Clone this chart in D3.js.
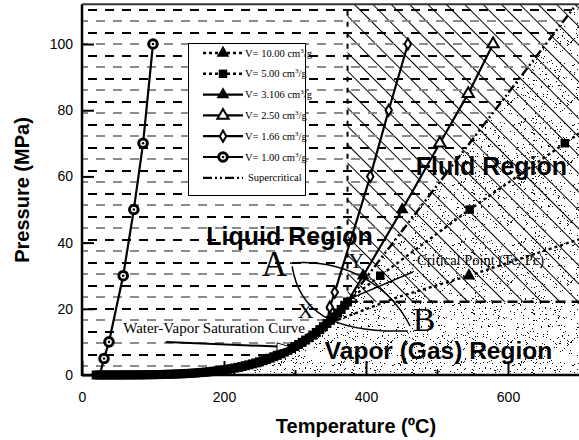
<!DOCTYPE html>
<html>
<head>
<meta charset="utf-8">
<script src="https://cdn.jsdelivr.net/npm/d3@7"></script>
<style>
  body { margin: 0; background: #fff; }
  svg { display: block; }
</style>
</head>
<body>
<script>
// saturation curve of water, T (degC) / P (MPa)
const satT = [20, 25, 30, 35, 40, 45, 50, 55, 60, 65, 70, 75, 80, 85, 90, 95, 100, 105, 110, 115,
  120, 125, 130, 135, 140, 145, 150, 155, 160, 165, 170, 175, 180, 185, 190, 195, 200, 205, 210,
  215, 220, 225, 230, 235, 240, 245, 250, 255, 260, 265, 270, 275, 280, 285, 290, 295, 300, 305,
  310, 315, 320, 325, 330, 335, 340, 345, 350, 355, 360, 365, 370, 374];
const satP = [0.002, 0.003, 0.004, 0.006, 0.007, 0.010, 0.012, 0.016, 0.020, 0.025, 0.031, 0.039,
  0.047, 0.058, 0.070, 0.085, 0.101, 0.121, 0.143, 0.169, 0.199, 0.232, 0.270, 0.313, 0.362, 0.416,
  0.476, 0.544, 0.618, 0.701, 0.792, 0.893, 1.003, 1.124, 1.255, 1.399, 1.555, 1.724, 1.908, 2.106,
  2.320, 2.550, 2.797, 3.063, 3.347, 3.651, 3.976, 4.323, 4.692, 5.085, 5.503, 5.946, 6.417, 6.915,
  7.442, 7.999, 8.588, 9.209, 9.865, 10.56, 11.28, 12.05, 12.86, 13.71, 14.60, 15.54, 16.53, 17.57,
  18.67, 19.82, 21.04, 22.06];

// isochores (T degC, P MPa, 1 = marker drawn)
const v1000T = [345, 377, 444, 545, 700];
const v1000P = [15.5, 18, 23.5, 30, 41];
const v1000M = [0, 0, 0, 1, 0];
const v500T = [362, 420, 546, 680, 700];
const v500P = [20.5, 30, 50, 70, 73];
const v500M = [0, 1, 1, 1, 0];
const v3106T = [374, 382, 396, 451];
const v3106P = [22.1, 25, 30, 50];
const v3106M = [0, 0, 1, 1];
const v250T = [451, 504, 544, 579];
const v250P = [50, 70, 85, 100];
const v250M = [0, 1, 1, 1];
const v166T = [345, 349, 356, 406, 432, 459];
const v166P = [15.5, 20.5, 25, 60, 80, 100];
const v166M = [0, 1, 1, 1, 1, 1];
const v100T = [25, 31, 38, 58, 73, 86, 100];
const v100P = [0, 5, 10, 30, 50, 70, 100];
const v100M = [0, 1, 1, 1, 1, 1, 1];
const superT = [374, 700];
const superP = [22.1, 113];

const critT = 374, critP = 22.1;

const legendVals = ['10.00', '5.00', '3.106', '2.50', '1.66', '1.00'];
const xTicks = [0, 200, 400, 600];
const xMinor = [100, 300, 500];
const yTicks = [0, 20, 40, 60, 80, 100];

const sans = "Arial, 'Liberation Sans', Helvetica, sans-serif";
const serif = "'Times New Roman', 'Liberation Serif', Times, serif";

const x = d3.scaleLinear().domain([0, 700]).range([82, 579]);
const y = d3.scaleLinear().domain([0, 112]).range([375, 4.3]);

const svg = d3.select('body').append('svg')
  .attr('width', 579)
  .attr('height', 440);
const defs = svg.append('defs');

defs.append('clipPath').attr('id', 'plot')
  .append('rect')
  .attr('x', x(0)).attr('y', y(112))
  .attr('width', x(700) - x(0)).attr('height', y(0) - y(112) + 6);

/* horizontal dash texture: black and grey rows, staggered */
const pd = defs.append('pattern').attr('id', 'hdash')
  .attr('patternUnits', 'userSpaceOnUse')
  .attr('x', 88).attr('y', 9).attr('width', 17).attr('height', 23);
pd.append('rect').attr('x', 0).attr('y', 0).attr('width', 9).attr('height', 2).attr('fill', '#000');
pd.append('rect').attr('x', 8).attr('y', 11).attr('width', 9).attr('height', 2).attr('fill', '#8c8c8c');

/* diagonal hatch */
const ph = defs.append('pattern').attr('id', 'hatch')
  .attr('patternUnits', 'userSpaceOnUse')
  .attr('width', 13).attr('height', 13)
  .attr('patternTransform', 'rotate(-45)');
ph.append('line').attr('x1', 0.5).attr('y1', 0).attr('x2', 0.5).attr('y2', 13)
  .attr('stroke', '#000').attr('stroke-width', 1);

/* stipple: fixed dot tile */
const ps = defs.append('pattern').attr('id', 'stip')
  .attr('patternUnits', 'userSpaceOnUse')
  .attr('width', 60).attr('height', 60);
let seed = 12345;
const lcg = () => (seed = (seed * 16807) % 2147483647) / 2147483647;
for (let i = 0; i < 190; i++) {
  ps.append('rect')
    .attr('x', Math.floor(lcg() * 60)).attr('y', Math.floor(lcg() * 60))
    .attr('width', 1).attr('height', 1).attr('fill', '#000');
}

const sat = d3.zip(satT, satP);
const line = d3.line().x(d => x(d[0])).y(d => y(d[1]));
const topT = critT + (112 - critP) * (superT[1] - superT[0]) / (superP[1] - superP[0]);

const bg = svg.append('g').attr('clip-path', 'url(#plot)');

// vapor + low-density fluid
bg.append('path')
  .attr('d', line([...sat, [topT, 112], [700, 112], [700, 0], [satT[0], 0]]) + 'Z')
  .attr('fill', 'url(#stip)');

// supercritical hatch
bg.append('rect')
  .attr('x', x(critT)).attr('y', y(112))
  .attr('width', x(700) - x(critT)).attr('height', y(critP) - y(112))
  .attr('fill', 'url(#hatch)');

// liquid-like texture
bg.append('path')
  .attr('d', line([[0, 0], ...sat, [topT, 112], [0, 112]]) + 'Z')
  .attr('fill', 'url(#hdash)')
  .attr('shape-rendering', 'crispEdges');

// critical T and P dashed boundaries
bg.append('line')
  .attr('x1', x(critT)).attr('x2', x(critT))
  .attr('y1', y(critP)).attr('y2', y(112))
  .attr('stroke', '#000').attr('stroke-width', 2)
  .attr('stroke-dasharray', '5,6');
bg.append('line')
  .attr('x1', x(critT)).attr('x2', x(700))
  .attr('y1', y(critP)).attr('y2', y(critP))
  .attr('stroke', '#000').attr('stroke-width', 2.5)
  .attr('stroke-dasharray', '10,6');

// supercritical dash-dot line
bg.append('path')
  .attr('d', line(d3.zip(superT, superP)))
  .attr('fill', 'none').attr('stroke', '#000').attr('stroke-width', 2.5)
  .attr('stroke-dasharray', '9,3,2,3,2,3');

function marker(g, type, cx, cy) {
  if (type === 'triFill') {
    g.append('path').attr('d', d3.symbol(d3.symbolTriangle, 70)())
      .attr('transform', `translate(${cx},${cy})`).attr('fill', '#000');
  } else if (type === 'triOpen') {
    g.append('path').attr('d', d3.symbol(d3.symbolTriangle, 55)())
      .attr('transform', `translate(${cx},${cy})`)
      .attr('fill', '#fff').attr('stroke', '#000').attr('stroke-width', 2);
  } else if (type === 'square') {
    g.append('path').attr('d', d3.symbol(d3.symbolSquare, 72)())
      .attr('transform', `translate(${cx},${cy})`).attr('fill', '#000');
  } else if (type === 'diamond') {
    g.append('path').attr('d', d3.symbol(d3.symbolDiamond, 36)())
      .attr('transform', `translate(${cx},${cy})`)
      .attr('fill', '#fff').attr('stroke', '#000').attr('stroke-width', 2);
  } else if (type === 'circ') {
    g.append('circle').attr('cx', cx).attr('cy', cy).attr('r', 4.3)
      .attr('fill', '#fff').attr('stroke', '#000').attr('stroke-width', 3);
    g.append('circle').attr('cx', cx).attr('cy', cy).attr('r', 1.3).attr('fill', '#000');
  }
}

const series = [
  { T: v1000T, P: v1000P, M: v1000M, mark: 'triFill', dash: '3,3', w: 2.4 },
  { T: v500T, P: v500P, M: v500M, mark: 'square', dash: '3,3', w: 2.4 },
  { T: v3106T, P: v3106P, M: v3106M, mark: 'triFill', dash: null, w: 2.2 },
  { T: v250T, P: v250P, M: v250M, mark: 'triOpen', dash: null, w: 2.2 },
  { T: v166T, P: v166P, M: v166M, mark: 'diamond', dash: null, w: 2.2 },
  { T: v100T, P: v100P, M: v100M, mark: 'circ', dash: null, w: 2.2 }
];

const dataG = svg.append('g').attr('clip-path', 'url(#plot)');
series.forEach(s => {
  dataG.append('path')
    .attr('d', line(d3.zip(s.T, s.P)))
    .attr('fill', 'none').attr('stroke', '#000').attr('stroke-width', s.w)
    .attr('stroke-dasharray', s.dash);
});
series.slice().reverse().forEach(s => {
  s.T.forEach((t, i) => {
    if (s.M[i]) marker(dataG, s.mark, x(t), y(s.P[i]));
  });
});

// saturation curve (dense squares)
svg.append('g').selectAll('rect')
  .data(sat)
  .join('rect')
  .attr('x', d => x(d[0]) - 4.5)
  .attr('y', d => y(d[1]) - 4.5)
  .attr('width', 9).attr('height', 9)
  .attr('fill', '#000');

/* annotations */
const ann = svg.append('g');

const regionNames = ['Liquid Region', 'Fluid Region', 'Vapor (Gas) Region'];
const regionT = [175, 470, 342];
const regionP = [39.3, 60.5, 4.9];
regionNames.forEach((t, i) => {
  ann.append('text')
    .attr('x', x(regionT[i])).attr('y', y(regionP[i]))
    .attr('font-family', sans).attr('font-weight', 'bold')
    .attr('font-size', i === 2 ? 24.5 : 25)
    .attr('fill', '#000')
    .text(t);
});

const letters = ['A', 'B', 'X', 'Y'];
const letterT = [253, 466, 304, 375];
const letterP = [30.0, 13.3, 17.2, 32.3];
const letterSize = [35, 34, 22, 22];
letters.forEach((t, i) => {
  ann.append('text')
    .attr('x', x(letterT[i])).attr('y', y(letterP[i]))
    .attr('font-family', serif).attr('font-size', letterSize[i])
    .text(t);
});

// two paths between A and B
const pathUpper = [[293, 33.8], [370, 35.2], [433, 27.2], [462, 14.8]];
const pathLower = [[296, 32.8], [306, 19.6], [348, 12.7], [459, 13.3]];
[pathUpper, pathLower].forEach(p => {
  const q = p.map(d => [x(d[0]), y(d[1])]);
  ann.append('path')
    .attr('d', `M${q[0]} C${q[1]} ${q[2]} ${q[3]}`)
    .attr('fill', 'none').attr('stroke', '#000').attr('stroke-width', 1.5);
});

// critical point label + pointer
ann.append('line')
  .attr('x1', x(466)).attr('y1', y(31.1))
  .attr('x2', x(380)).attr('y2', y(23.3))
  .attr('stroke', '#000').attr('stroke-width', 1.5);
ann.append('text')
  .attr('x', x(472)).attr('y', y(33.2))
  .attr('font-family', serif).attr('font-size', 14.5)
  .text('Critical Point (Tc, Pc)');

// saturation curve label + arrow
const satLabel = ann.append('text')
  .attr('x', x(58)).attr('y', y(12.7))
  .attr('font-family', serif).attr('font-size', 15)
  .text('Water-Vapor Saturation Curve');
const bb = satLabel.node().getBBox();
ann.insert('rect', 'text')
  .attr('x', bb.x - 1).attr('y', bb.y + 2)
  .attr('width', bb.width + 2).attr('height', bb.height - 4)
  .attr('fill', '#fff');
const a0 = [x(118), y(10)], a1 = [x(293), y(8.5)];
ann.append('line')
  .attr('x1', a0[0]).attr('y1', a0[1]).attr('x2', a1[0] - 12).attr('y2', a1[1] - 0.3)
  .attr('stroke', '#000').attr('stroke-width', 2);
ann.append('path')
  .attr('d', `M${a1[0]},${a1[1]} L${a1[0] - 13},${a1[1] - 4} L${a1[0] - 13},${a1[1] + 4} Z`)
  .attr('fill', '#fff').attr('stroke', '#000').attr('stroke-width', 1);

/* legend */
const lg = svg.append('g');
lg.append('rect')
  .attr('x', 188.5).attr('y', 43.5).attr('width', 117).attr('height', 152)
  .attr('fill', '#fff').attr('stroke', '#000').attr('stroke-width', 1);
series.forEach((s, i) => {
  const ly = 53 + i * 20.8;
  lg.append('line')
    .attr('x1', 203).attr('x2', 243).attr('y1', ly).attr('y2', ly)
    .attr('stroke', '#000').attr('stroke-width', s.w)
    .attr('stroke-dasharray', s.dash);
  marker(lg, s.mark, 223, ly);
  const t = lg.append('text')
    .attr('x', 245).attr('y', ly + 3.5)
    .attr('font-family', serif).attr('font-size', 10.5);
  t.append('tspan').text('V= ' + legendVals[i] + ' cm');
  t.append('tspan').attr('dy', -4).attr('font-size', 7).text('3');
  t.append('tspan').attr('dy', 4).text('/g');
});
const sy = 53 + 6 * 20.8;
lg.append('line')
  .attr('x1', 203).attr('x2', 243).attr('y1', sy).attr('y2', sy)
  .attr('stroke', '#000').attr('stroke-width', 2.2)
  .attr('stroke-dasharray', '9,3,2,3,2,3');
lg.append('text')
  .attr('x', 248).attr('y', sy + 3.5)
  .attr('font-family', serif).attr('font-size', 10.5)
  .text('Supercritical');

/* axes */
svg.append('g')
  .attr('transform', `translate(0,${y(0)})`)
  .call(d3.axisBottom(x).tickValues(xTicks).tickSizeInner(-14).tickSizeOuter(0).tickPadding(17));
svg.append('g')
  .attr('transform', `translate(0,${y(0)})`)
  .call(d3.axisBottom(x).tickValues(xMinor).tickSizeInner(-5).tickSizeOuter(0).tickFormat(''));
svg.append('g')
  .attr('transform', `translate(${x(0)},0)`)
  .call(d3.axisLeft(y).tickValues(yTicks).tickSizeInner(-12).tickSizeOuter(0).tickPadding(9));

svg.selectAll('.domain').remove();
svg.selectAll('.tick line').attr('stroke', '#000').attr('stroke-width', 2);
svg.selectAll('.tick text')
  .attr('font-family', sans).attr('font-size', 14).attr('fill', '#000');

// frame
svg.append('line')
  .attr('x1', x(0)).attr('x2', x(0)).attr('y1', y(112)).attr('y2', y(0) + 1)
  .attr('stroke', '#000').attr('stroke-width', 2.5);
svg.append('line')
  .attr('x1', x(0)).attr('x2', x(700)).attr('y1', y(0)).attr('y2', y(0))
  .attr('stroke', '#000').attr('stroke-width', 2.5);
svg.append('line')
  .attr('x1', x(0)).attr('x2', x(700)).attr('y1', y(112)).attr('y2', y(112))
  .attr('stroke', '#333').attr('stroke-width', 2);

// axis titles
svg.append('text')
  .attr('x', 356).attr('y', 433)
  .attr('text-anchor', 'middle')
  .attr('font-family', sans).attr('font-weight', 'bold').attr('font-size', 20)
  .text('Temperature (ºC)');
svg.append('text')
  .attr('transform', 'translate(29,190) rotate(-90)')
  .attr('text-anchor', 'middle')
  .attr('font-family', sans).attr('font-weight', 'bold').attr('font-size', 20)
  .text('Pressure (MPa)');
</script>
</body>
</html>
